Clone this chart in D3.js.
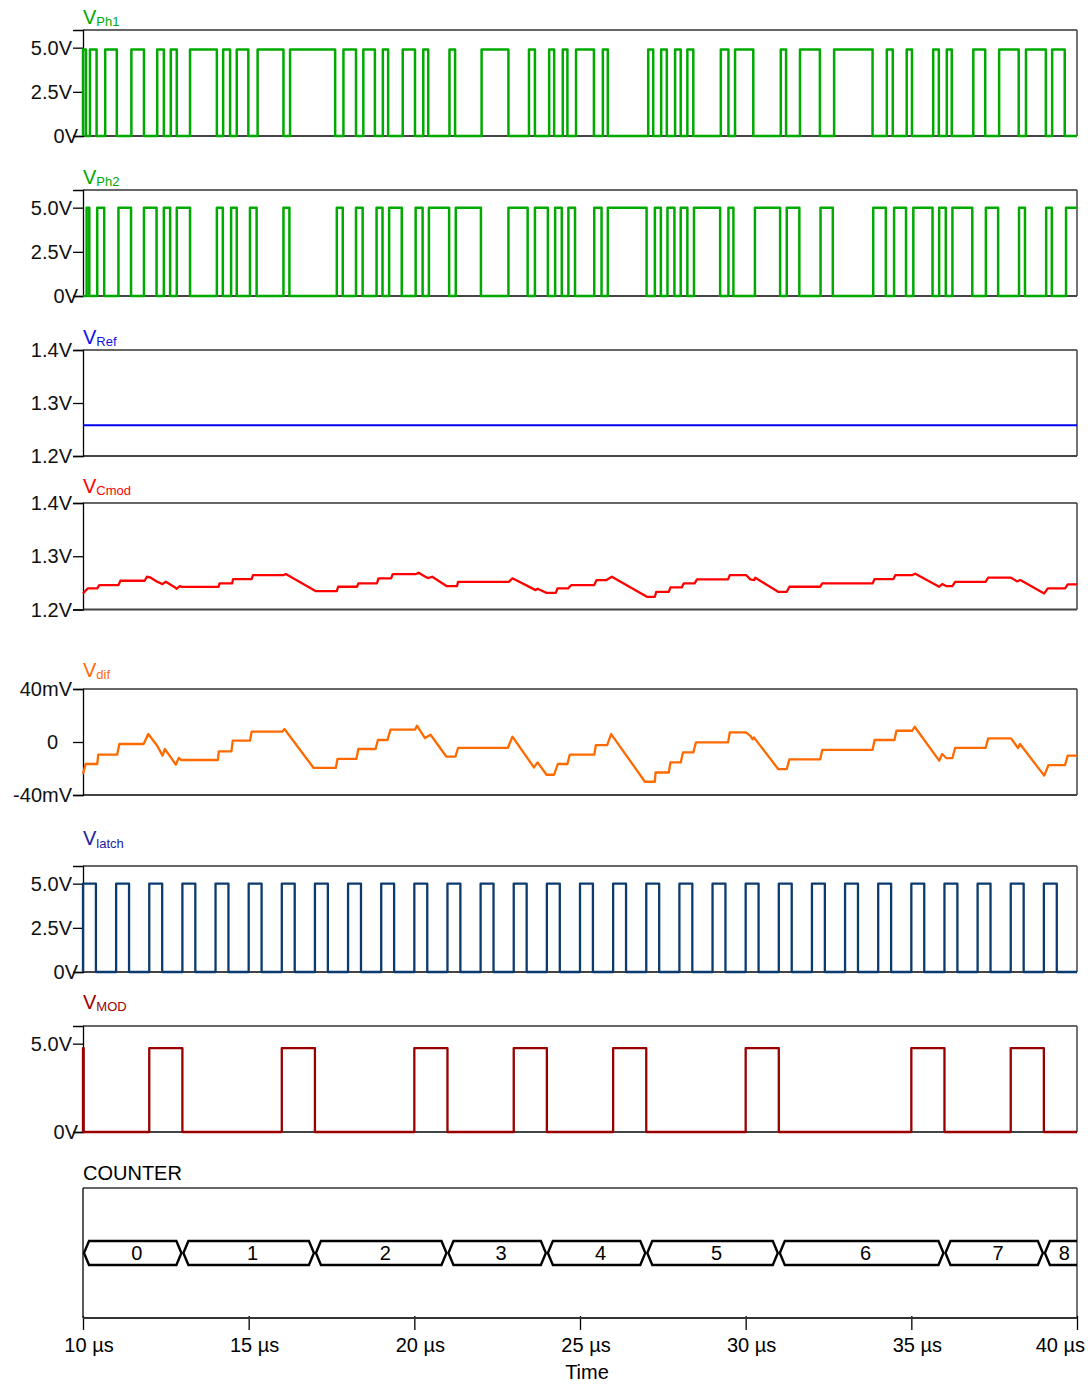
<!DOCTYPE html>
<html><head><meta charset="utf-8">
<script src="https://cdn.jsdelivr.net/npm/d3@7"></script>
<style>
body{margin:0;background:#fff}
text{font-family:"Liberation Sans",Arial,Helvetica,sans-serif}
</style>
</head><body>
<svg id="chart" width="1089" height="1384"></svg>
<script>
// ---------------- DATA ----------------
const timeTicks = [10, 15, 20, 25, 30, 35, 40];
const timeTickLabels = ["10 µs", "15 µs", "20 µs", "25 µs", "30 µs", "35 µs", "40 µs"];
const xAxisTitle = "Time";

const digitalTicks = [0, 2.5, 5];
const digitalTickLabels = ["0V", "2.5V", "5.0V"];
const modTicks = [0, 5];
const modTickLabels = ["0V", "5.0V"];
const analogTicks = [1.2, 1.3, 1.4];
const analogTickLabels = ["1.2V", "1.3V", "1.4V"];
const difTicks = [-40, 0, 40];
const difTickLabels = ["-40mV", "0", "40mV"];

// high intervals [start µs, end µs]
const ph1High = [[10.00,10.09],[10.21,10.41],[10.67,11.02],[11.46,11.84],[12.24,12.44],[12.65,12.83],[13.23,14.04],[14.23,14.44],[14.64,14.99],[15.27,16.05],[16.25,17.61],[17.86,18.24],[18.46,18.81],[19.05,19.21],[19.65,20.02],[20.27,20.42],[21.06,21.23],[22.03,22.84],[23.46,23.64],[24.07,24.22],[24.48,24.62],[24.88,25.42],[25.69,25.84],[27.06,27.21],[27.45,27.62],[27.87,28.04],[28.24,28.42],[29.25,29.48],[29.68,30.23],[31.06,31.22],[31.64,32.24],[32.67,33.83],[34.26,34.44],[34.86,35.02],[35.66,35.83],[36.07,36.22],[36.87,37.23],[37.65,38.24],[38.46,39.06],[39.25,39.63]];
const ph1Level = 4.9;
const ph2High = [[10.11,10.19],[10.43,10.64],[11.07,11.45],[11.84,12.22],[12.44,12.63],[12.83,13.23],[14.04,14.22],[14.47,14.64],[15.04,15.24],[16.05,16.23],[17.66,17.84],[18.24,18.44],[18.86,19.04],[19.24,19.62],[20.04,20.25],[20.44,21.05],[21.25,22.01],[22.84,23.42],[23.64,24.03],[24.25,24.45],[24.65,24.85],[25.43,25.65],[25.84,27.01],[27.26,27.44],[27.64,27.85],[28.04,28.24],[28.44,29.23],[29.48,29.63],[30.28,31.04],[31.24,31.62],[32.26,32.63],[33.85,34.23],[34.48,34.84],[35.06,35.64],[35.84,36.04],[36.24,36.84],[37.25,37.62],[38.25,38.43],[39.07,39.24],[39.67,40.00]];
const ph2Level = 5.0;

const refTimes = [10, 40];
const refValues = [1.258, 1.258];

const cmodPts = [[10.00,1.230],[10.14,1.2396],[10.43,1.2396],[10.49,1.2459],[11.07,1.2459],[11.13,1.254],[11.86,1.254],[11.93,1.2615],[12.02,1.2604],[12.24,1.252],[12.40,1.2477],[12.50,1.252],[12.78,1.2415],[12.83,1.239],[12.92,1.244],[12.99,1.2426],[14.09,1.2426],[14.12,1.249],[14.50,1.249],[14.53,1.2572],[15.09,1.2572],[15.13,1.2647],[16.06,1.2647],[16.12,1.2666],[17.03,1.2345],[17.66,1.2345],[17.70,1.2427],[18.27,1.2427],[18.31,1.249],[18.87,1.249],[18.92,1.2585],[19.30,1.2585],[19.35,1.2666],[20.05,1.2666],[20.13,1.269],[20.32,1.262],[20.41,1.259],[20.54,1.2615],[20.97,1.244],[21.29,1.244],[21.32,1.252],[22.85,1.252],[22.96,1.2585],[23.66,1.2364],[23.72,1.239],[23.99,1.2313],[24.27,1.2313],[24.32,1.2396],[24.64,1.2396],[24.74,1.2459],[25.43,1.2459],[25.50,1.2553],[25.80,1.2553],[25.96,1.2615],[27.02,1.2238],[27.26,1.2238],[27.30,1.2332],[27.68,1.2332],[27.73,1.2415],[28.07,1.2415],[28.13,1.249],[28.46,1.249],[28.53,1.2566],[29.47,1.2566],[29.52,1.2647],[30.01,1.2647],[30.14,1.2566],[30.26,1.2553],[30.29,1.2597],[30.98,1.2332],[31.24,1.2332],[31.32,1.2427],[32.25,1.2427],[32.31,1.249],[33.83,1.249],[33.89,1.2572],[34.46,1.2572],[34.52,1.2647],[35.03,1.2647],[35.12,1.2672],[35.84,1.2427],[35.93,1.2478],[36.05,1.244],[36.24,1.244],[36.32,1.252],[37.24,1.252],[37.32,1.2597],[38.01,1.2597],[38.19,1.2528],[38.29,1.2553],[39.01,1.2302],[39.12,1.2396],[39.64,1.2396],[39.72,1.247],[40.00,1.247]];

const vdifPts = [[10.00,-24.2],[10.08,-16.6],[10.43,-16.6],[10.46,-9.6],[11.03,-9.6],[11.10,-1.5],[11.83,-1.5],[11.97,6.0],[12.24,-2.8],[12.40,-10.3],[12.47,-5.3],[12.65,-11.6],[12.80,-17.1],[12.89,-12.1],[12.97,-13.6],[14.07,-13.6],[14.10,-7.1],[14.48,-7.1],[14.52,1.0],[15.04,1.0],[15.09,7.8],[16.01,7.8],[16.08,9.8],[16.96,-19.6],[17.63,-19.6],[17.68,-12.8],[18.25,-12.8],[18.31,-5.3],[18.83,-5.3],[18.90,1.5],[19.19,1.5],[19.28,9.3],[20.02,9.3],[20.08,12.3],[20.32,3.0],[20.49,5.5],[20.97,-11.1],[21.24,-11.1],[21.32,-4.5],[22.82,-4.5],[22.96,4.0],[23.61,-19.2],[23.72,-15.4],[23.99,-24.7],[24.22,-24.7],[24.33,-16.6],[24.62,-16.6],[24.69,-9.6],[25.43,-9.6],[25.48,-2.3],[25.82,-2.3],[25.94,6.0],[26.96,-30.0],[27.26,-30.0],[27.28,-23.0],[27.68,-23.0],[27.73,-15.4],[28.04,-15.4],[28.11,-7.8],[28.42,-7.8],[28.50,-0.3],[29.47,-0.3],[29.52,7.2],[30.01,7.2],[30.15,4.5],[30.21,2.0],[30.25,3.5],[30.98,-20.4],[31.24,-20.4],[31.32,-13.1],[32.25,-13.1],[32.31,-6.0],[33.83,-6.0],[33.89,1.5],[34.49,1.5],[34.55,8.5],[35.03,8.5],[35.10,11.5],[35.84,-14.1],[35.93,-9.1],[36.05,-12.1],[36.24,-12.1],[36.32,-4.5],[37.24,-4.5],[37.32,2.7],[38.01,2.7],[38.17,-2.8],[38.22,-4.5],[38.28,-1.5],[39.01,-25.4],[39.14,-17.4],[39.64,-17.4],[39.72,-10.3],[40.00,-10.3]];

const latchHigh = [[10.00,10.39],[11.00,11.39],[12.00,12.39],[13.00,13.39],[14.00,14.39],[15.00,15.39],[16.00,16.39],[17.00,17.39],[18.00,18.39],[19.00,19.39],[20.00,20.39],[21.00,21.39],[22.00,22.39],[23.00,23.39],[24.00,24.39],[25.00,25.39],[26.00,26.39],[27.00,27.39],[28.00,28.39],[29.00,29.39],[30.00,30.39],[31.00,31.39],[32.00,32.39],[33.00,33.39],[34.00,34.39],[35.00,35.39],[36.00,36.39],[37.00,37.39],[38.00,38.39],[39.00,39.39]];
const latchLevel = 5.0;

const modHigh = [[10.00,10.02],[12.00,13.00],[16.00,17.00],[20.00,21.00],[23.00,24.00],[26.00,27.00],[30.00,31.00],[35.00,36.00],[38.00,39.00]];
const modLevel = 4.75;

const counterValues = ["0","1","2","3","4","5","6","7","8"];
const counterEdges = [10, 13, 17, 21, 24, 27, 31, 36, 39, 40];

// ---------------- DRAWING ----------------
const svg = d3.select("#chart");
const L = 83, R = 1077;
const x = d3.scaleLinear().domain([10, 40]).range([L, R]);

function stepSeries(intervals, level) {
  const pts = [[10, 0]];
  intervals.forEach(([s, e]) => {
    pts.push([s, 0], [s, level], [e, level]);
    if (e < 40) pts.push([e, 0]);
  });
  const last = intervals[intervals.length - 1];
  if (last[1] < 40) pts.push([40, 0]);
  return pts;
}

const panels = [
  {top:30, bottom:136, domain:[0,6], ticks:digitalTicks, labels:digitalTickLabels, name:"V", sub:"Ph1", color:"#00aa00", labY:23.5,
   data: stepSeries(ph1High, ph1Level), stroke:"#00aa00", sw:2.5},
  {top:190, bottom:296, domain:[0,6], ticks:digitalTicks, labels:digitalTickLabels, name:"V", sub:"Ph2", color:"#00aa00", labY:183.5,
   data: stepSeries(ph2High, ph2Level), stroke:"#00aa00", sw:2.5},
  {top:350, bottom:456, domain:[1.2,1.4], ticks:analogTicks, labels:analogTickLabels, name:"V", sub:"Ref", color:"#1010ee", labY:343.5,
   data: refTimes.map((t,i)=>[t, refValues[i]]), stroke:"#0000ee", sw:2.2},
  {top:503, bottom:609.5, domain:[1.2,1.4], ticks:analogTicks, labels:analogTickLabels, name:"V", sub:"Cmod", color:"#ff0000", labY:492.5,
   data: cmodPts, stroke:"#ff0000", sw:2.3},
  {top:689, bottom:795, domain:[-40,40], ticks:difTicks, labels:difTickLabels, name:"V", sub:"dif", color:"#ff6a10", labY:676.5,
   data: vdifPts, stroke:"#ff6a00", sw:2.3},
  {top:866, bottom:972, domain:[0,6], ticks:digitalTicks, labels:digitalTickLabels, name:"V", sub:"latch", color:"#2222a0", labY:845,
   data: stepSeries(latchHigh, latchLevel), stroke:"#0b3a6e", sw:2.3},
  {top:1026, bottom:1132, domain:[0,6], ticks:modTicks, labels:modTickLabels, name:"V", sub:"MOD", color:"#a00000", labY:1008.5,
   data: stepSeries(modHigh, modLevel), stroke:"#990000", sw:2.3}
];

panels.forEach(p => {
  const y = d3.scaleLinear().domain(p.domain).range([p.bottom, p.top]);
  const g = svg.append("g");
  g.append("line").attr("x1", L).attr("x2", R).attr("y1", p.top).attr("y2", p.top).attr("stroke", "#333").attr("stroke-width", 1.5);
  g.append("line").attr("x1", R).attr("x2", R).attr("y1", p.top).attr("y2", p.bottom).attr("stroke", "#444").attr("stroke-width", 1.5);
  g.append("line").attr("x1", L).attr("x2", R).attr("y1", p.bottom).attr("y2", p.bottom).attr("stroke", "#444").attr("stroke-width", 2);
  const ax = d3.axisLeft(y).tickValues(p.ticks).tickSize(10).tickFormat("");
  const axg = g.append("g").attr("transform", `translate(${L},0)`).call(ax);
  axg.select(".domain").attr("stroke", "#000").attr("stroke-width", 1.3);
  axg.selectAll(".tick line").attr("stroke", "#000").attr("stroke-width", 1.3);
  p.ticks.forEach((t, i) => {
    const lab = p.labels[i];
    let xe = 72;
    if (lab === "0V") xe = 78;
    if (lab === "0") xe = 58;
    g.append("text").attr("x", xe).attr("y", y(t)).attr("dy", "0.36em")
      .attr("text-anchor", "end").attr("font-size", 20).attr("fill", "#111").text(lab);
  });
  const line = d3.line().x(d => x(d[0])).y(d => y(d[1]));
  g.append("path").datum(p.data).attr("d", line).attr("fill", "none")
    .attr("stroke", p.stroke).attr("stroke-width", p.sw).attr("stroke-linejoin", "round");
  const t = g.append("text").attr("x", L).attr("y", p.labY).attr("fill", p.color);
  t.append("tspan").attr("font-size", 20).text(p.name);
  t.append("tspan").attr("font-size", 13).attr("dy", 2.5).text(p.sub);
});

// COUNTER panel
const cTop = 1188, cBot = 1318, cMid = 1253, cHalf = 12;
svg.append("text").attr("x", L).attr("y", 1180).attr("font-size", 20).attr("fill", "#000").text("COUNTER");
svg.append("line").attr("x1", L).attr("x2", R).attr("y1", cTop).attr("y2", cTop).attr("stroke", "#333").attr("stroke-width", 1.5);
svg.append("line").attr("x1", R).attr("x2", R).attr("y1", cTop).attr("y2", cBot).attr("stroke", "#444").attr("stroke-width", 1.5);
svg.append("line").attr("x1", L).attr("x2", L).attr("y1", cTop).attr("y2", cBot).attr("stroke", "#000").attr("stroke-width", 1.3);

counterValues.forEach((v, i) => {
  const a = x(counterEdges[i]), b = x(counterEdges[i + 1]);
  const last = counterEdges[i + 1] >= 40;
  let d;
  if (last) {
    d = `M${b},${cMid - cHalf} L${a + 6},${cMid - cHalf} L${a + 1},${cMid} L${a + 6},${cMid + cHalf} L${b},${cMid + cHalf}`;
  } else {
    d = `M${a + 1},${cMid} L${a + 6},${cMid - cHalf} L${b - 6},${cMid - cHalf} L${b - 1},${cMid} L${b - 6},${cMid + cHalf} L${a + 6},${cMid + cHalf} Z`;
  }
  svg.append("path").attr("d", d).attr("fill", "none").attr("stroke", "#000").attr("stroke-width", 2.4).attr("stroke-linejoin", "miter");
  svg.append("text").attr("x", (a + b) / 2 + 4).attr("y", cMid).attr("dy", "0.36em")
    .attr("text-anchor", "middle").attr("font-size", 20).attr("fill", "#000").text(v);
});

// time axis
const xAxis = d3.axisBottom(x).tickValues(timeTicks).tickSize(14).tickFormat("");
const xg = svg.append("g").attr("transform", `translate(0,${cBot - 2})`).call(xAxis);
xg.select(".domain").remove();
xg.selectAll(".tick line").attr("stroke", "#000").attr("stroke-width", 1.3);
svg.append("line").attr("x1", L).attr("x2", R).attr("y1", cBot).attr("y2", cBot).attr("stroke", "#333").attr("stroke-width", 2.2);

timeTicks.forEach((t, i) => {
  const txt = svg.append("text").attr("y", 1352).attr("font-size", 20).attr("fill", "#000")
    .attr("text-anchor", "middle").text(timeTickLabels[i]);
  const w = txt.node().getComputedTextLength();
  const cx = Math.min(x(t) + 6, 1085 - w / 2);
  txt.attr("x", cx);
});
svg.append("text").attr("x", x(25) + 7).attr("y", 1379).attr("font-size", 20).attr("text-anchor", "middle")
  .attr("fill", "#000").text(xAxisTitle);
</script>
</body></html>
